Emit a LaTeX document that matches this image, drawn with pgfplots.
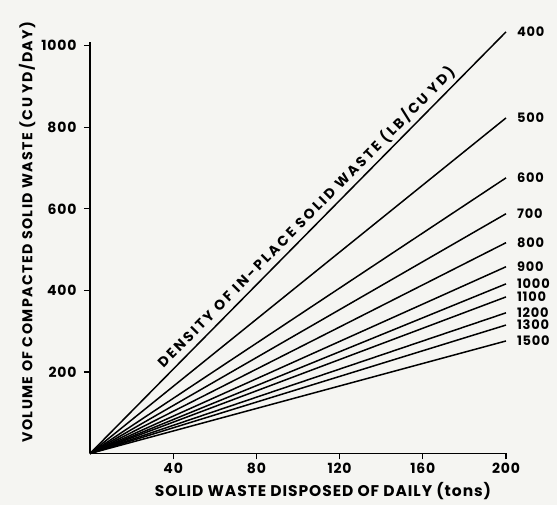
\documentclass[border=0pt]{standalone}
\usepackage{pgfplots}
\pgfplotsset{compat=1.18}
\usepackage{fontspec}
\setmainfont{Poppins}
\usetikzlibrary{backgrounds}
\definecolor{paper}{HTML}{F5F5F2}
\newcommand{\lab}[1]{\fontsize{#1}{#1}\selectfont\bfseries\addfontfeatures{LetterSpace=6}}
\tikzset{rlab/.style={anchor=west, xshift=7pt, font=\lab{13}},
  ln/.style={black, solid, line width=1.5pt, no markers}}
\begin{document}
\begin{tikzpicture}[background rectangle/.style={fill=paper}, show background rectangle, inner frame sep=0pt]
\useasboundingbox (-90pt,-51.5pt) rectangle (467pt,453.5pt);
\begin{axis}[
  scale only axis, width=416pt, height=411pt,
  xmin=0, xmax=200, ymin=0, ymax=1008,
  axis lines*=left, clip=false,
  axis line style={line width=1.4pt},
  xtick={40,80,120,160,200}, ytick={200,400,600,800,1000},
  tick align=outside, major tick length=6pt,
  tick style={line width=1.2pt, black},
  /pgf/number format/assume math mode=true,
  /pgf/number format/1000 sep={},
  ticklabel style={font=\lab{14}},
  yticklabel style={xshift=-4pt},
  xlabel={SOLID WASTE DISPOSED OF DAILY (tons)},
  ylabel={VOLUME OF COMPACTED SOLID WASTE (CU YD/DAY)},
  xlabel style={font=\lab{15.5}, yshift=-2pt, xshift=25pt},
  ylabel style={font=\lab{14.2}\addfontfeatures{LetterSpace=10}, yshift=-1pt, xshift=16pt},
]
\addplot[ln] coordinates {(0,0) (200,1034)} node[pos=1, rlab] {400}
  node[pos=0.54, sloped, above, yshift=0pt, font=\lab{14}\addfontfeatures{LetterSpace=18}] {DENSITY OF IN-PLACE SOLID WASTE (LB/CU YD)};
\addplot[ln] coordinates {(0,0) (200,823)} node[pos=1, rlab] {500};
\addplot[ln] coordinates {(0,0) (200,676)} node[pos=1, rlab] {600};
\addplot[ln] coordinates {(0,0) (200,588)} node[pos=1, rlab] {700};
\addplot[ln] coordinates {(0,0) (200,517)} node[pos=1, rlab] {800};
\addplot[ln] coordinates {(0,0) (200,458)} node[pos=1, rlab] {900};
\addplot[ln] coordinates {(0,0) (200,416)} node[pos=1, rlab] {1000};
\addplot[ln] coordinates {(0,0) (200,384)} node[pos=1, rlab] {1100};
\addplot[ln] coordinates {(0,0) (200,345)} node[pos=1, rlab] {1200};
\addplot[ln] coordinates {(0,0) (200,315)} node[pos=1, rlab] {1300};
\addplot[ln] coordinates {(0,0) (200,276)} node[pos=1, rlab] {1500};
\end{axis}
\end{tikzpicture}
\end{document}
